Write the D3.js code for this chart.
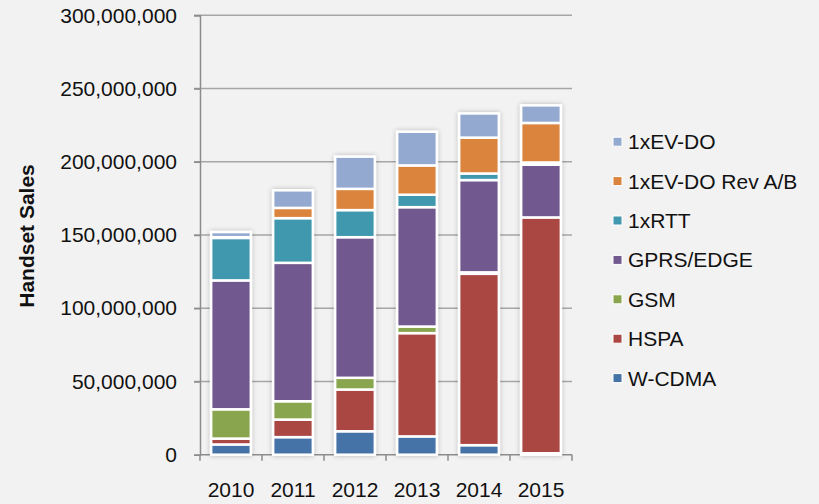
<!DOCTYPE html>
<html>
<head>
<meta charset="utf-8">
<script src="https://cdn.jsdelivr.net/npm/d3@7"></script>
<style>
  body { margin: 0; background: #f2f2f2; }
  svg { display: block; font-family: "Liberation Sans", Arial, sans-serif; }
</style>
</head>
<body>
<figure id="handsets" style="margin:0"></figure>
<script>
// data
const years = ["2010", "2011", "2012", "2013", "2014", "2015"];
const wcdma = [7, 12, 16, 12.5, 6.5, 1].map(v => v * 1e6);
const hspa = [4, 12, 28.5, 70.5, 117, 161].map(v => v * 1e6);
const gsm = [20, 12.5, 8, 4.5, 1, 0].map(v => v * 1e6);
const gprsEdge = [88, 94.5, 96, 81.5, 63, 36].map(v => v * 1e6);
const rtt = [29, 30.5, 18.5, 8.5, 4.5, 1.5].map(v => v * 1e6);
const evdoRevAB = [0.5, 7, 14.5, 20, 24.5, 27].map(v => v * 1e6);
const evdo = [3.5, 12, 22, 23, 16.5, 12].map(v => v * 1e6);
const yTicks = [0, 50e6, 100e6, 150e6, 200e6, 250e6, 300e6];

const seriesNames = ["W-CDMA", "HSPA", "GSM", "GPRS/EDGE", "1xRTT", "1xEV-DO Rev A/B", "1xEV-DO"];
const seriesValues = [wcdma, hspa, gsm, gprsEdge, rtt, evdoRevAB, evdo];
const colors = ["#4572a7", "#aa4643", "#89a54e", "#71588f", "#4198af", "#db843d", "#93a9cf"];

const width = 819, height = 504;
const plotLeft = 200, plotRight = 572, plotTop = 15.3, plotBottom = 454.7;
const fontSize = 21;

const table = years.map((yr, i) => {
  const row = { year: yr };
  seriesNames.forEach((s, j) => row[s] = seriesValues[j][i]);
  return row;
});
const stacked = d3.stack().keys(seriesNames)(table);

const svg = d3.select("figure#handsets")
  .append("svg")
  .attr("width", width)
  .attr("height", height);

const defs = svg.append("defs");
const shadow = defs.append("filter").attr("id", "shadow")
  .attr("x", "-30%").attr("y", "-10%").attr("width", "160%").attr("height", "120%");
shadow.append("feGaussianBlur").attr("in", "SourceAlpha").attr("stdDeviation", 2.5).attr("result", "b");
shadow.append("feComponentTransfer").attr("in", "b").attr("result", "s")
  .append("feFuncA").attr("type", "linear").attr("slope", 0.25);
const merge = shadow.append("feMerge");
merge.append("feMergeNode").attr("in", "s");
merge.append("feMergeNode").attr("in", "SourceGraphic");

const x = d3.scaleBand().domain(years).range([plotLeft, plotRight]).paddingInner(0.36).paddingOuter(0.18);
const y = d3.scaleLinear().domain([0, 300e6]).range([plotBottom, plotTop]);

// grid
svg.append("g")
  .selectAll("line")
  .data(yTicks.slice(1))
  .enter()
  .append("line")
  .attr("x1", plotLeft - 6).attr("x2", plotRight)
  .attr("y1", d => y(d)).attr("y2", d => y(d))
  .attr("stroke", "#a6a6a6").attr("stroke-width", 1.5);

// y axis
const yAxis = svg.append("g")
  .attr("transform", "translate(" + plotLeft + ",0)")
  .call(d3.axisLeft(y).tickValues(yTicks).tickFormat(d3.format(",")).tickSize(6).tickPadding(17));
yAxis.select(".domain").attr("stroke", "#8c8c8c").attr("stroke-width", 1.5);
yAxis.selectAll(".tick line").attr("stroke", "#8c8c8c").attr("stroke-width", 1.5);
yAxis.selectAll("text").attr("font-size", fontSize).attr("fill", "#111").attr("font-family", "Liberation Sans, Arial, sans-serif");

// x axis
const xEdges = d3.scaleLinear().domain([0, years.length]).range([plotLeft, plotRight]);
const xAxis = svg.append("g").attr("transform", "translate(0," + plotBottom + ")");
xAxis.append("line").attr("x1", plotLeft).attr("x2", plotRight).attr("stroke", "#8c8c8c").attr("stroke-width", 1.5);
xAxis.selectAll(".edge")
  .data(d3.range(years.length + 1))
  .enter()
  .append("line")
  .attr("x1", d => xEdges(d)).attr("x2", d => xEdges(d))
  .attr("y1", 0).attr("y2", 6)
  .attr("stroke", "#8c8c8c").attr("stroke-width", 1.5);
xAxis.selectAll("text")
  .data(years)
  .enter()
  .append("text")
  .attr("x", d => x(d) + x.bandwidth() / 2)
  .attr("y", 42)
  .attr("text-anchor", "middle")
  .attr("font-size", fontSize)
  .attr("fill", "#111")
  .text(d => d);

// bars
const barGroups = svg.append("g").selectAll("g.bar")
  .data(years)
  .enter()
  .append("g")
  .attr("filter", "url(#shadow)");
barGroups.each(function (yr, i) {
  d3.select(this).selectAll("rect")
    .data(stacked.map((s, j) => ({ lo: s[i][0], hi: s[i][1], c: colors[j] })).filter(d => d.hi - d.lo > 0))
    .enter()
    .append("rect")
    .attr("x", x(yr))
    .attr("y", d => y(d.hi))
    .attr("width", x.bandwidth())
    .attr("height", d => y(d.lo) - y(d.hi))
    .attr("fill", d => d.c)
    .attr("stroke", "#fff")
    .attr("stroke-width", 2.5);
});

// y title
svg.append("text")
  .attr("transform", "translate(34,236) rotate(-90)")
  .attr("text-anchor", "middle")
  .attr("font-size", fontSize)
  .attr("font-weight", "bold")
  .attr("fill", "#111")
  .text("Handset Sales");

// legend
const legendOrder = seriesNames.slice().reverse();
const legend = svg.append("g").selectAll("g")
  .data(legendOrder)
  .enter()
  .append("g")
  .attr("transform", (d, i) => "translate(613," + (141.7 + i * 39.4) + ")");
legend.append("rect")
  .attr("x", 0).attr("y", -4.5).attr("width", 9).attr("height", 9)
  .attr("fill", d => colors[seriesNames.indexOf(d)])
  .attr("stroke", "#fff").attr("stroke-width", 1);
legend.append("text")
  .attr("x", 15).attr("y", 7.5)
  .attr("font-size", fontSize)
  .attr("fill", "#111")
  .text(d => d);
</script>
</body>
</html>
